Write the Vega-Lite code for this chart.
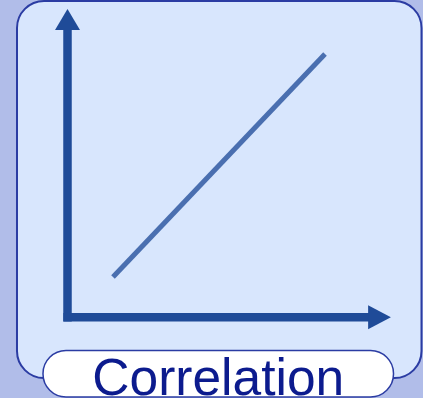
{
  "$schema": "https://vega.github.io/schema/vega-lite/v6.json",
  "width": 423,
  "height": 398,
  "padding": 0,
  "autosize": {"type": "none"},
  "background": "#b1bde9",
  "config": {"view": {"stroke": null}},
  "datasets": {
    "panel": [{"x": 17, "x2": 421.5, "y": 1, "y2": 378}],
    "axes": [
      {"x": 67.5, "x2": 67.5, "y": 29, "y2": 321.6},
      {"x": 63.4, "x2": 370, "y": 317.3, "y2": 317.3}
    ],
    "uparrow": [{"x": 67.5, "y": 19.5}],
    "rightarrow": [{"x": 379.5, "y": 317.2}],
    "trend": [{"x": 113, "y": 277, "x2": 325, "y2": 54}],
    "pill": [{"x": 43, "x2": 393.5, "y": 350.5, "y2": 397}],
    "label": [{"x": 218.3, "y": 394.5, "text": "Correlation"}]
  },
  "layer": [
    {
      "data": {"name": "panel"},
      "mark": {"type": "rect", "cornerRadius": 27, "fill": "#d8e6fd", "stroke": "#2b3ca3", "strokeWidth": 2},
      "encoding": {
        "x": {"field": "x", "type": "quantitative", "scale": {"domain": [0, 423], "nice": false, "zero": false}, "axis": null},
        "x2": {"field": "x2"},
        "y": {"field": "y", "type": "quantitative", "scale": {"domain": [0, 398], "reverse": true, "nice": false, "zero": false}, "axis": null},
        "y2": {"field": "y2"}
      }
    },
    {
      "data": {"name": "axes"},
      "mark": {"type": "rule", "color": "#1f4b98", "strokeWidth": 8.5},
      "encoding": {
        "x": {"field": "x", "type": "quantitative"},
        "x2": {"field": "x2"},
        "y": {"field": "y", "type": "quantitative"},
        "y2": {"field": "y2"}
      }
    },
    {
      "data": {"name": "uparrow"},
      "mark": {"type": "point", "shape": "M0,-0.84L1,0.84L-1,0.84Z", "size": 625, "filled": true, "fill": "#1f4b98", "opacity": 1, "strokeWidth": 0},
      "encoding": {
        "x": {"field": "x", "type": "quantitative"},
        "y": {"field": "y", "type": "quantitative"}
      }
    },
    {
      "data": {"name": "rightarrow"},
      "mark": {"type": "point", "shape": "M0.95,0L-0.95,1L-0.95,-1Z", "size": 576, "filled": true, "fill": "#1f4b98", "opacity": 1, "strokeWidth": 0},
      "encoding": {
        "x": {"field": "x", "type": "quantitative"},
        "y": {"field": "y", "type": "quantitative"}
      }
    },
    {
      "data": {"name": "trend"},
      "mark": {"type": "rule", "color": "#4a6fb0", "strokeWidth": 5},
      "encoding": {
        "x": {"field": "x", "type": "quantitative"},
        "x2": {"field": "x2"},
        "y": {"field": "y", "type": "quantitative"},
        "y2": {"field": "y2"}
      }
    },
    {
      "data": {"name": "pill"},
      "mark": {"type": "rect", "cornerRadius": 23, "fill": "#ffffff", "stroke": "#2b3ca3", "strokeWidth": 1.5},
      "encoding": {
        "x": {"field": "x", "type": "quantitative"},
        "x2": {"field": "x2"},
        "y": {"field": "y", "type": "quantitative"},
        "y2": {"field": "y2"}
      }
    },
    {
      "data": {"name": "label"},
      "mark": {"type": "text", "font": "Liberation Sans", "fontSize": 51.5, "color": "#0c1b8e", "align": "center", "baseline": "alphabetic"},
      "encoding": {
        "x": {"field": "x", "type": "quantitative"},
        "y": {"field": "y", "type": "quantitative"},
        "text": {"field": "text"}
      }
    }
  ]
}
